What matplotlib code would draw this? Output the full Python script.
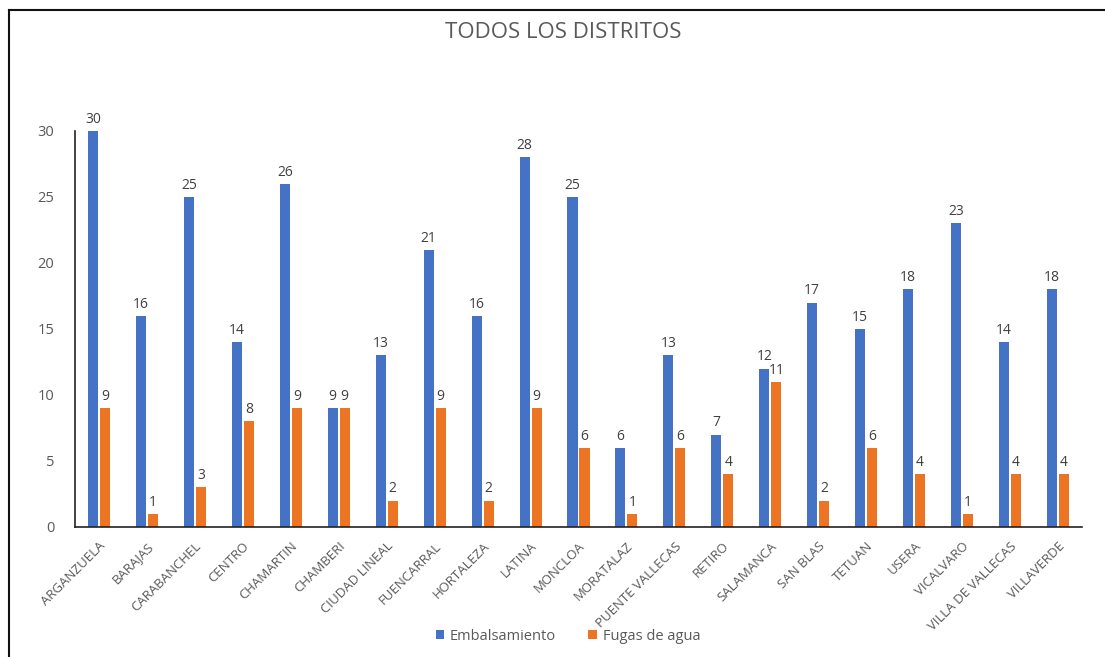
import matplotlib
matplotlib.use("Agg")
import matplotlib.pyplot as plt
import numpy as np
from matplotlib.lines import Line2D

districts = ["ARGANZUELA", "BARAJAS", "CARABANCHEL", "CENTRO", "CHAMARTIN", "CHAMBERI",
             "CIUDAD LINEAL", "FUENCARRAL", "HORTALEZA", "LATINA", "MONCLOA", "MORATALAZ",
             "PUENTE VALLECAS", "RETIRO", "SALAMANCA", "SAN BLAS", "TETUAN", "USERA",
             "VICALVARO", "VILLA DE VALLECAS", "VILLAVERDE"]
embalsamiento = [30, 16, 25, 14, 26, 9, 13, 21, 16, 28, 25, 6, 13, 7, 12, 17, 15, 18, 23, 14, 18]
fugas = [9, 1, 3, 8, 9, 9, 2, 9, 2, 9, 6, 1, 6, 4, 11, 2, 6, 4, 1, 4, 4]
y_ticks = [0, 5, 10, 15, 20, 25, 30]

plt.rcParams['font.family'] = ['Open Sans', 'DejaVu Sans']
BLUE = '#4472C4'
ORANGE = '#EC7422'
TXT = '#595959'

fig = plt.figure(figsize=(11.05, 6.57), dpi=100)
ax = fig.add_axes([75/1105, 1-527/657, (1082-75)/1105, (527-131)/657])

x = np.arange(len(districts))
w = 0.21
off = 0.125
b1 = ax.bar(x - off, embalsamiento, w, color=BLUE, label='Embalsamiento')
b2 = ax.bar(x + off, fugas, w, color=ORANGE, label='Fugas de agua')
for bars in (b1, b2):
    ax.bar_label(bars, padding=3, fontsize=10, color='#404040')

ax.set_xlim(-0.5, len(districts) - 0.5)
ax.set_ylim(0, 30)
ax.set_yticks(y_ticks)
ax.tick_params(axis='y', length=0, pad=15, labelsize=10.5, labelcolor=TXT)
ax.tick_params(axis='x', length=0, pad=9, labelsize=9.5, labelcolor=TXT)
ax.set_xticks(x)
ax.set_xticklabels(districts, rotation=45, ha='right', va='top', rotation_mode='anchor')
for s in ('top', 'right'):
    ax.spines[s].set_visible(False)
ax.spines['left'].set_color('#222222')
ax.spines['bottom'].set_color('#222222')
ax.spines['left'].set_linewidth(1.2)
ax.spines['bottom'].set_linewidth(1.2)

fig.text(563/1105, 1-33/657, 'TODOS LOS DISTRITOS', ha='center', va='center',
         fontsize=16, color=TXT)

fig.legend(handles=[b1, b2], loc='center', bbox_to_anchor=(568/1105, 1-636/657),
           ncol=2, frameon=False, fontsize=10.5, handlelength=0.6, handleheight=0.6,
           columnspacing=2.2, handletextpad=0.4, labelcolor=TXT)

# outer frame lines (top and left)
fig.add_artist(Line2D([9/1105, 1], [1-10/657, 1-10/657], transform=fig.transFigure,
                      color='#111111', lw=1.5))
fig.add_artist(Line2D([9/1105, 9/1105], [0, 1-10/657], transform=fig.transFigure,
                      color='#111111', lw=1.5))

fig.savefig('out.png', dpi=100)
